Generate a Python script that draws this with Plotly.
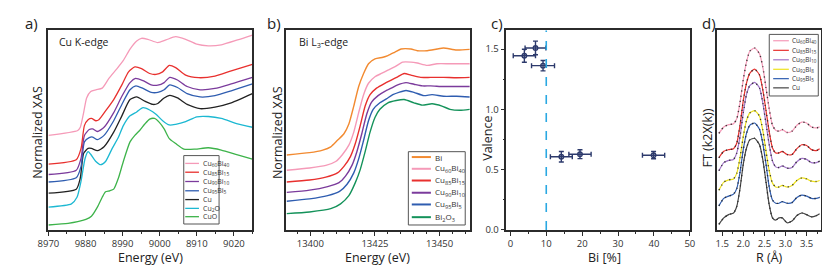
import plotly.graph_objects as go

# ---------------- Panel a: Cu K-edge XANES ----------------
A_PINK_E = [8970.0, 8977.9, 8978.6, 8979.5, 8980.3, 8981.4, 8982.8, 8984.5, 8986.3, 8988.5, 8990.2, 8992.0, 8993.8, 8995.1, 8996.8, 8999.5, 9001.7, 9004.3, 9007.0, 9010.0, 9013.1, 9016.6, 9021.0, 9025.0]
A_PINK_Y = [2.90, 3.05, 3.15, 3.60, 4.05, 4.25, 4.30, 4.35, 4.65, 4.95, 5.20, 5.55, 5.80, 5.88, 5.85, 5.75, 5.83, 5.93, 5.85, 5.70, 5.65, 5.68, 5.83, 5.98]

A_RED_E = [8970.0, 8977.5, 8978.8, 8979.7, 8980.7, 8981.6, 8982.8, 8983.6, 8985.4, 8987.6, 8989.8, 8991.6, 8993.3, 8995.1, 8997.3, 8999.0, 9000.8, 9002.6, 9004.3, 9007.0, 9010.5, 9014.9, 9019.3, 9025.0]
A_RED_Y = [2.02, 2.15, 2.50, 3.20, 3.38, 3.42, 3.35, 3.38, 3.65, 4.00, 4.45, 4.85, 5.00, 4.95, 4.80, 4.77, 4.85, 5.05, 4.98, 4.75, 4.67, 4.72, 4.88, 5.08]

A_PURPLE_E = [8970.0, 8977.5, 8978.8, 8979.7, 8981.0, 8981.9, 8983.2, 8985.0, 8987.6, 8989.8, 8992.0, 8993.5, 8995.5, 8997.7, 8999.5, 9001.2, 9002.7, 9004.8, 9007.4, 9010.9, 9014.9, 9019.3, 9025.0]
A_PURPLE_Y = [1.70, 1.83, 2.20, 2.90, 3.08, 3.10, 3.02, 3.15, 3.60, 4.10, 4.52, 4.65, 4.58, 4.45, 4.44, 4.52, 4.68, 4.60, 4.40, 4.30, 4.34, 4.48, 4.68]

A_BLUE_E = [8970.0, 8977.5, 8978.8, 8979.7, 8981.0, 8981.9, 8983.2, 8985.0, 8987.6, 8989.8, 8992.0, 8993.6, 8995.5, 8997.7, 8999.5, 9001.2, 9002.7, 9004.8, 9007.4, 9010.9, 9014.9, 9019.3, 9025.0]
A_BLUE_Y = [1.47, 1.60, 1.95, 2.70, 2.83, 2.85, 2.77, 2.90, 3.35, 3.85, 4.30, 4.42, 4.34, 4.22, 4.22, 4.30, 4.45, 4.37, 4.18, 4.08, 4.12, 4.27, 4.48]

A_CU_E = [8970.0, 8977.5, 8978.6, 8979.5, 8980.7, 8981.6, 8983.2, 8985.0, 8987.6, 8989.8, 8992.0, 8993.8, 8996.0, 8998.2, 8999.5, 9000.5, 9001.2, 9002.7, 9004.8, 9007.4, 9010.9, 9014.9, 9019.3, 9025.0]
A_CU_Y = [1.13, 1.25, 1.60, 2.35, 2.50, 2.50, 2.43, 2.55, 3.00, 3.50, 4.00, 4.08, 3.95, 3.85, 3.88, 3.98, 4.05, 4.13, 4.05, 3.85, 3.72, 3.77, 3.90, 4.18]

A_CU2O_E = [8970.0, 8976.2, 8977.7, 8978.8, 8979.9, 8980.7, 8981.4, 8982.8, 8984.1, 8985.4, 8987.2, 8988.9, 8990.2, 8992.0, 8993.8, 8995.5, 8997.3, 8999.0, 9000.8, 9002.6, 9004.3, 9007.0, 9010.0, 9013.1, 9016.6, 9021.0, 9025.0]
A_CU2O_Y = [0.70, 0.80, 1.00, 1.50, 2.20, 2.40, 2.32, 2.10, 2.00, 2.10, 2.50, 2.85, 3.20, 3.50, 3.62, 3.75, 3.68, 3.55, 3.35, 3.22, 3.24, 3.32, 3.47, 3.48, 3.42, 3.25, 3.15]

A_CUO_E = [8970.0, 8975.3, 8977.9, 8980.1, 8981.6, 8983.2, 8984.5, 8985.4, 8986.5, 8987.6, 8988.9, 8990.2, 8992.0, 8993.3, 8994.6, 8996.0, 8997.3, 8998.6, 8999.9, 9001.2, 9002.6, 9004.3, 9006.5, 9009.6, 9013.1, 9016.6, 9021.0, 9025.0]
A_CUO_Y = [0.15, 0.20, 0.25, 0.32, 0.42, 0.70, 1.00, 1.17, 1.20, 1.25, 1.60, 2.10, 2.70, 2.90, 3.05, 3.25, 3.40, 3.42, 3.30, 3.10, 2.80, 2.65, 2.48, 2.48, 2.52, 2.45, 2.30, 2.17]

A_TICKVALS = [8970, 8980, 8990, 9000, 9010, 9020]
A_TICKTEXT = ["8970", "9880", "8990", "9000", "8910", "9020"]

# ---------------- Panel b: Bi L3-edge XANES ----------------
B_BI_E = [13390.9, 13399.7, 13404.8, 13407.9, 13410.5, 13413.0, 13414.9, 13416.8, 13418.7, 13420.6, 13422.5, 13425.0, 13428.1, 13430.0, 13432.6, 13435.1, 13438.9, 13441.4, 13445.2, 13449.0, 13451.5, 13456.6, 13461.6]
B_BI_Y = [2.30, 2.37, 2.45, 2.55, 2.75, 2.95, 3.25, 3.80, 4.40, 4.80, 5.10, 5.25, 5.30, 5.35, 5.45, 5.55, 5.55, 5.50, 5.50, 5.55, 5.58, 5.52, 5.54]

B_CU60_E = [13390.9, 13399.7, 13406.0, 13409.8, 13412.3, 13414.9, 13416.8, 13418.7, 13420.6, 13422.5, 13425.0, 13427.5, 13430.0, 13432.6, 13435.7, 13438.9, 13441.4, 13445.2, 13449.0, 13454.0, 13461.6]
B_CU60_Y = [1.83, 1.90, 1.98, 2.10, 2.30, 2.60, 3.00, 3.60, 4.15, 4.50, 4.70, 4.80, 4.90, 5.00, 5.15, 5.15, 5.12, 5.05, 5.10, 5.10, 5.10]

B_CU85_E = [13390.9, 13399.7, 13406.0, 13410.5, 13413.0, 13415.5, 13417.4, 13419.3, 13421.2, 13423.1, 13425.6, 13428.8, 13431.3, 13433.8, 13436.3, 13438.9, 13442.7, 13446.5, 13451.5, 13456.6, 13461.6]
B_CU85_Y = [1.47, 1.53, 1.62, 1.75, 1.95, 2.25, 2.65, 3.20, 3.80, 4.15, 4.35, 4.50, 4.60, 4.70, 4.80, 4.75, 4.68, 4.68, 4.68, 4.67, 4.68]

B_CU90_E = [13390.9, 13399.7, 13406.7, 13411.1, 13413.6, 13416.1, 13418.0, 13419.9, 13421.8, 13423.7, 13426.2, 13428.8, 13431.3, 13433.8, 13437.0, 13440.1, 13443.3, 13446.5, 13451.5, 13456.6, 13461.6]
B_CU90_Y = [1.15, 1.22, 1.33, 1.45, 1.65, 1.98, 2.40, 2.95, 3.55, 3.92, 4.12, 4.25, 4.35, 4.45, 4.52, 4.47, 4.42, 4.42, 4.40, 4.40, 4.40]

B_CU95_E = [13390.9, 13399.7, 13406.7, 13411.3, 13414.2, 13416.8, 13418.7, 13420.6, 13422.5, 13424.3, 13426.9, 13429.4, 13431.9, 13434.5, 13437.0, 13440.1, 13443.9, 13447.1, 13451.5, 13456.6, 13461.6]
B_CU95_Y = [0.88, 0.95, 1.05, 1.18, 1.40, 1.75, 2.18, 2.75, 3.35, 3.70, 3.90, 4.02, 4.15, 4.23, 4.28, 4.22, 4.12, 4.15, 4.10, 4.10, 4.08]

B_BI2O3_E = [13390.9, 13399.7, 13407.9, 13411.7, 13414.9, 13417.4, 13419.3, 13421.2, 13423.1, 13425.0, 13426.9, 13430.0, 13433.2, 13436.3, 13440.1, 13443.3, 13447.1, 13450.9, 13454.0, 13457.8, 13461.6]
B_BI2O3_Y = [0.50, 0.55, 0.65, 0.80, 1.05, 1.45, 1.85, 2.40, 3.00, 3.45, 3.70, 3.90, 3.97, 4.00, 3.90, 3.83, 3.87, 3.80, 3.70, 3.67, 3.70]

B_TICKVALS = [13400, 13425, 13450]

# ---------------- Panel c: valence vs Bi content ----------------
C_BI = [3.9, 7.0, 9.1, 14.2, 19.4, 39.9]
C_VALENCE = [1.445, 1.51, 1.363, 0.607, 0.628, 0.62]
C_BI_ERR = [3.1, 2.9, 3.2, 3.05, 3.1, 3.1]
C_VAL_ERR = [0.054, 0.057, 0.043, 0.043, 0.037, 0.03]
C_THRESHOLD = 10

# ---------------- Panel d: FT EXAFS ----------------
D_R = [1.423, 1.539, 1.654, 1.770, 1.846, 1.923, 2.000, 2.077, 2.154, 2.269, 2.385, 2.462, 2.539, 2.615, 2.692, 2.769, 2.846, 2.923, 3.038, 3.154, 3.269, 3.385, 3.500, 3.615, 3.731, 3.808]
D_CU60 = [2.97, 3.17, 3.24, 3.27, 3.42, 3.92, 4.62, 5.17, 5.50, 5.60, 5.42, 5.02, 4.37, 3.72, 3.22, 3.07, 3.04, 3.09, 3.00, 3.04, 3.22, 3.32, 3.29, 3.17, 3.14, 3.17]
D_CU85 = [2.22, 2.42, 2.47, 2.50, 2.67, 3.22, 3.97, 4.52, 4.82, 4.95, 4.77, 4.32, 3.67, 3.02, 2.52, 2.37, 2.37, 2.42, 2.32, 2.32, 2.50, 2.62, 2.60, 2.47, 2.44, 2.50]
D_CU90 = [1.82, 2.07, 2.14, 2.17, 2.37, 2.87, 3.60, 4.17, 4.44, 4.54, 4.37, 3.92, 3.27, 2.62, 2.12, 1.94, 1.92, 1.97, 1.90, 1.92, 2.10, 2.20, 2.17, 2.07, 2.07, 2.12]
D_CU92 = [1.22, 1.47, 1.54, 1.57, 1.74, 2.22, 2.87, 3.37, 3.60, 3.67, 3.50, 3.07, 2.42, 1.82, 1.44, 1.32, 1.32, 1.37, 1.32, 1.37, 1.52, 1.60, 1.57, 1.50, 1.49, 1.52]
D_CU95 = [0.74, 0.97, 1.04, 1.10, 1.27, 1.77, 2.47, 2.97, 3.22, 3.29, 3.10, 2.67, 2.02, 1.32, 0.92, 0.82, 0.82, 0.87, 0.82, 0.84, 1.00, 1.07, 1.04, 0.97, 0.97, 1.00]
D_CU = [0.17, 0.37, 0.47, 0.52, 0.72, 1.27, 2.02, 2.52, 2.77, 2.82, 2.62, 2.17, 1.47, 0.77, 0.37, 0.30, 0.37, 0.37, 0.22, 0.27, 0.44, 0.52, 0.47, 0.40, 0.44, 0.50]

# ---------------- styles ----------------
PINK = "#f59ab8"
RED = "#e8302e"
PURPLE = "#7b3b9c"
BLUE = "#2f5db0"
BLACK = "#222222"
CYAN = "#1cb8d2"
GREEN_A = "#3db34a"
ORANGE = "#f28a30"
GREEN_B = "#14925a"
YELLOW = "#eee21e"
NAVY = "#2d3a6c"
D_PURPLE = "#a274c8"
D_GREY = "#444444"

W, H = 830, 266
def px(x):
    return x / W
def py(y):
    return 1 - y / H

FONT = "Open Sans"
TICKFONT = dict(family=FONT, size=9.5, color="#333333")
FRAME = "#2b2b2b"

fig = go.Figure()

def line(x, y, color, xa, ya, width=1.3, dash=None):
    fig.add_trace(go.Scatter(x=x, y=y, mode="lines",
                             line=dict(color=color, width=width, shape="spline", smoothing=0.6, dash=dash),
                             xaxis=xa, yaxis=ya, showlegend=False, hoverinfo="skip"))

# panel a
for e, yv, c in [(A_CUO_E, A_CUO_Y, GREEN_A), (A_CU2O_E, A_CU2O_Y, CYAN), (A_CU_E, A_CU_Y, BLACK),
                 (A_BLUE_E, A_BLUE_Y, BLUE), (A_PURPLE_E, A_PURPLE_Y, PURPLE),
                 (A_RED_E, A_RED_Y, RED), (A_PINK_E, A_PINK_Y, PINK)]:
    line(e, yv, c, "x", "y")

# panel b
for e, yv, c in [(B_BI2O3_E, B_BI2O3_Y, GREEN_B), (B_CU95_E, B_CU95_Y, BLUE), (B_CU90_E, B_CU90_Y, PURPLE),
                 (B_CU85_E, B_CU85_Y, RED), (B_CU60_E, B_CU60_Y, PINK), (B_BI_E, B_BI_Y, ORANGE)]:
    line(e, yv, c, "x2", "y2", width=1.4)

# panel c
fig.add_trace(go.Scatter(x=C_BI, y=C_VALENCE, mode="markers",
                         marker=dict(symbol="circle-open", size=4.5, color=NAVY, line=dict(width=1.4, color=NAVY)),
                         error_x=dict(type="data", array=C_BI_ERR, color=NAVY, thickness=1.4, width=2.5),
                         error_y=dict(type="data", array=C_VAL_ERR, color=NAVY, thickness=1.4, width=2.5),
                         xaxis="x3", yaxis="y3", showlegend=False, hoverinfo="skip"))
fig.add_shape(type="line", xref="x3", yref="y3 domain", x0=C_THRESHOLD, x1=C_THRESHOLD, y0=0, y1=1,
              line=dict(color="#2aa8e2", width=1.6, dash="dash"))

# panel d
for yv, c in [(D_CU, D_GREY), (D_CU95, BLUE), (D_CU92, YELLOW), (D_CU90, D_PURPLE), (D_CU85, RED), (D_CU60, PINK)]:
    line(D_R, yv, c, "x4", "y4", width=1.2)
    line(D_R, yv, "rgba(40,40,40,0.9)", "x4", "y4", width=1.4, dash="1.2px,4px")

axis_common = dict(showline=True, mirror=True, linecolor=FRAME, linewidth=1.5, showgrid=False, zeroline=False,
                   tickfont=TICKFONT, ticks="outside", ticklen=4, tickcolor=FRAME, tickwidth=1)
yaxis_plain = dict(showline=True, mirror=True, linecolor=FRAME, linewidth=1.5, showgrid=False, zeroline=False,
                   showticklabels=False, ticks="")

fig.update_layout(
    width=W, height=H, margin=dict(l=0, r=0, t=0, b=0),
    paper_bgcolor="white", plot_bgcolor="white",
    xaxis=dict(domain=[px(30), px(238)], range=[8970, 9025], anchor="y",
               tickvals=A_TICKVALS, ticktext=A_TICKTEXT,
               minor=dict(dtick=5, ticklen=2, ticks="outside", tickcolor=FRAME), **axis_common),
    yaxis=dict(domain=[py(227), py(23)], range=[0, 6.12], anchor="x", **yaxis_plain),
    xaxis2=dict(domain=[px(272), px(460)], range=[13390.5, 13461.8], anchor="y2",
                tickvals=B_TICKVALS, tickformat="d",
                minor=dict(dtick=5, ticklen=2, ticks="outside", tickcolor=FRAME), **axis_common),
    yaxis2=dict(domain=[py(227), py(23)], range=[0, 6.12], anchor="x2", **yaxis_plain),
    xaxis3=dict(domain=[px(497), px(684)], range=[-1.1, 50], anchor="y3",
                tickvals=[0, 10, 20, 30, 40, 50],
                minor=dict(dtick=5, ticklen=2, ticks="outside", tickcolor=FRAME), **axis_common),
    yaxis3=dict(domain=[py(227), py(23)], range=[0, 1.655], anchor="x3",
                tickvals=[0, 0.5, 1.0, 1.5], tickformat=".1f",
                minor=dict(dtick=0.25, ticklen=2, ticks="outside", tickcolor=FRAME), **axis_common),
    xaxis4=dict(domain=[px(712), px(818)], range=[1.385, 3.846], anchor="y4",
                tickvals=[1.5, 2.0, 2.5, 3.0, 3.5], tickformat=".1f",
                minor=dict(dtick=0.25, ticklen=2, ticks="outside", tickcolor=FRAME), **axis_common),
    yaxis4=dict(domain=[py(227), py(23)], range=[0, 6.14], anchor="x4", **yaxis_plain),
)

def text(x, y, s, size, xanchor="center", yanchor="middle", angle=0, color="#222222"):
    fig.add_annotation(x=px(x), y=py(y), xref="paper", yref="paper", text=s, showarrow=False,
                       xanchor=xanchor, yanchor=yanchor, textangle=angle,
                       font=dict(family=FONT, size=size, color=color))

# panel letters
text(4, 15, "a)", 15, xanchor="left")
text(251, 15, "b)", 15, xanchor="left")
text(479, 15, "c)", 15, xanchor="left")
text(694, 15, "d)", 15, xanchor="left")

# in-panel captions
text(39, 35, "Cu K-edge", 10.5, xanchor="left")
text(283, 35, "Bi L<sub>3</sub>-edge", 10.5, xanchor="left")

# axis titles
text(134, 255, "Energy (eV)", 12.5)
text(366, 255, "Energy (eV)", 12.5)
text(597, 255, "Bi [%]", 12.5)
text(765, 255, "R (Å)", 12.5)
text(18, 127, "Normalized XAS", 12.5, angle=-90)
text(263, 127, "Normalized XAS", 12.5, angle=-90)
text(477, 133, "Valence", 12.5, angle=-90)
text(702, 133, "FT (k2X(k))", 12.5, angle=-90)

# legends (drawn as boxes with short line keys)
def legend(box, rows, x0, x1, xt, size, lw):
    fig.add_shape(type="rect", xref="paper", yref="paper", x0=px(box[0]), x1=px(box[2]),
                  y0=py(box[3]), y1=py(box[1]), line=dict(color="#555555", width=1), fillcolor="white")
    for yy, col, lab in rows:
        fig.add_shape(type="line", xref="paper", yref="paper", x0=px(x0), x1=px(x1), y0=py(yy), y1=py(yy),
                      line=dict(color=col, width=lw))
        text(xt, yy, lab, size, xanchor="left", color="#333333")

legend((168, 151, 204, 221), [
    (159, PINK, "Cu<sub>60</sub>Bi<sub>40</sub>"),
    (168, RED, "Cu<sub>85</sub>Bi<sub>15</sub>"),
    (177.5, PURPLE, "Cu<sub>90</sub>Bi<sub>10</sub>"),
    (187, BLUE, "Cu<sub>95</sub>Bi<sub>5</sub>"),
    (196, BLACK, "Cu"),
    (205, CYAN, "Cu<sub>2</sub>O"),
    (213.5, GREEN_A, "CuO"),
], 169.5, 183.5, 185.5, 7, 1.3)

legend((397, 147, 455, 222), [
    (152.5, ORANGE, "Bi"),
    (164.5, PINK, "Cu<sub>60</sub>Bi<sub>40</sub>"),
    (176.5, RED, "Cu<sub>85</sub>Bi<sub>15</sub>"),
    (189, PURPLE, "Cu<sub>90</sub>Bi<sub>10</sub>"),
    (201, BLUE, "Cu<sub>95</sub>Bi<sub>5</sub>"),
    (214, GREEN_B, "Bi<sub>2</sub>O<sub>3</sub>"),
], 400.5, 420, 422, 8, 2)

legend((765, 27, 815, 90), [
    (33.5, PINK, "Cu<sub>60</sub>Bi<sub>40</sub>"),
    (43.3, RED, "Cu<sub>85</sub>Bi<sub>15</sub>"),
    (53, D_PURPLE, "Cu<sub>90</sub>Bi<sub>10</sub>"),
    (62.7, YELLOW, "Cu<sub>92</sub>Bi<sub>8</sub>"),
    (72.3, BLUE, "Cu<sub>95</sub>Bi<sub>5</sub>"),
    (81.7, D_GREY, "Cu"),
], 769, 785, 786.5, 6.5, 1.2)

fig.write_html("out.html")
